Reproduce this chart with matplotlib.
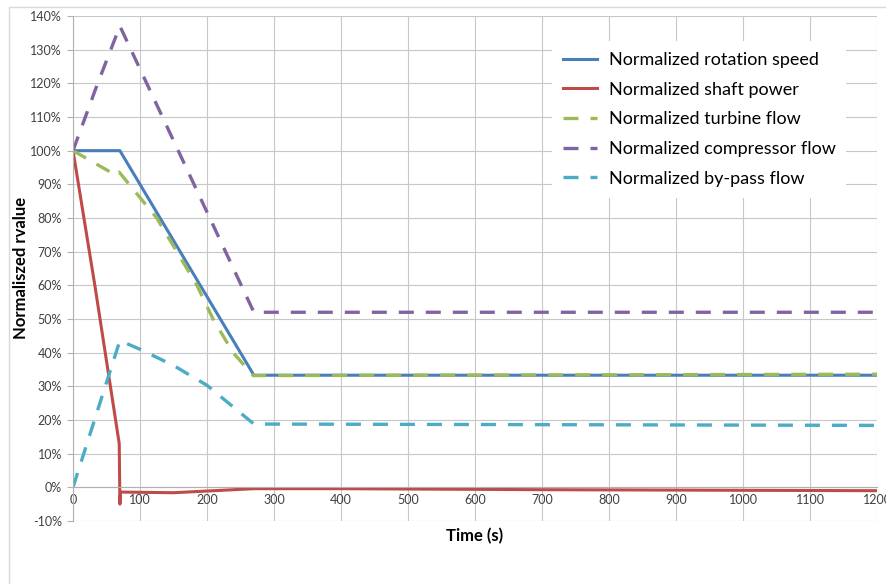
import matplotlib.pyplot as plt
from matplotlib.patches import Rectangle

plt.rcParams['font.family'] = ['Lato', 'DejaVu Sans']

# Data (time in s, values in %)
t_speed = [0, 70, 270, 1200]
speed = [100, 100, 33.3, 33.3]

t_power = [0, 33, 69, 70, 71, 150, 200, 270, 400, 700, 1200]
power = [100, 59.5, 13, -5, -1.4, -1.6, -1.1, -0.4, -0.4, -0.7, -1.0]

t_turb = [0, 65, 69, 125, 155, 185, 209, 239, 269, 1200]
turb = [100, 92.6, 93.6, 80, 70, 60, 50, 40, 33.2, 33.6]

t_comp = [0, 35, 70, 270, 1200]
comp = [100, 119, 137, 52, 52]

t_bypass = [0, 70, 100, 150, 200, 270, 1200]
bypass = [0, 43.6, 41, 36.2, 30.3, 18.8, 18.4]

labels = ['Normalized rotation speed', 'Normalized shaft power',
          'Normalized turbine flow', 'Normalized compressor flow',
          'Normalized by-pass flow']
colors = ['#4A7EBB', '#BE4B48', '#9BBB59', '#8064A2', '#4BACC6']

fig = plt.figure(figsize=(8.87, 5.84), dpi=100)
fig.patches.append(Rectangle((9 / 887, -0.05), 1.1, 1 - 6.5 / 584 + 0.05,
                             transform=fig.transFigure, fill=False,
                             edgecolor='#d9d9d9', lw=1))
ax = fig.add_axes([73 / 887, 1 - 521 / 584, (877 - 73) / 887, (521 - 16) / 584])

dash = (0, (4.5, 3.6))
ax.plot(t_speed, speed, color=colors[0], lw=2.2, label=labels[0])
ax.plot(t_power, power, color=colors[1], lw=2.2, label=labels[1])
ax.plot(t_turb, turb, color=colors[2], lw=2.4, ls=dash, label=labels[2])
ax.plot(t_comp, comp, color=colors[3], lw=2.4, ls=dash, label=labels[3])
ax.plot(t_bypass, bypass, color=colors[4], lw=2.4, ls=dash, label=labels[4])

ax.set_xlim(0, 1200)
ax.set_ylim(-10, 140)
ax.set_xticks(range(0, 1201, 100))
ax.set_yticks(range(-10, 141, 10))
ax.set_yticklabels([f'{v}%' for v in range(-10, 141, 10)])
ax.grid(True, color='#c8c8c8', lw=0.8)
ax.set_axisbelow(True)
for s in ['top', 'right']:
    ax.spines[s].set_visible(False)
ax.spines['bottom'].set_position(('data', 0))
ax.spines['bottom'].set_color('#b0b0b0')
ax.spines['left'].set_color('#b0b0b0')
ax.tick_params(axis='x', length=0, pad=5, labelsize=9, colors='#404040')
ax.tick_params(axis='y', length=4, width=0.8, color='#b0b0b0', pad=4,
               labelsize=9, labelcolor='#404040')

fig.text(475 / 887, 1 - 536 / 584, 'Time (s)', ha='center', va='center',
         fontsize=12, fontweight='bold')
fig.text(21 / 887, 1 - 268 / 584, 'Normaliszed rvalue', ha='center',
         va='center', rotation=90, fontsize=12, fontweight='bold')

leg = ax.legend(loc='upper left', bbox_to_anchor=(552 / 887, 1 - 41 / 584),
                bbox_transform=fig.transFigure, fontsize=13, frameon=True,
                facecolor='white', edgecolor='none', framealpha=1,
                fancybox=False, borderaxespad=0, handlelength=1.88,
                handletextpad=0.66, labelspacing=0.76, borderpad=0.6)

fig.savefig('out.png', dpi=100)
